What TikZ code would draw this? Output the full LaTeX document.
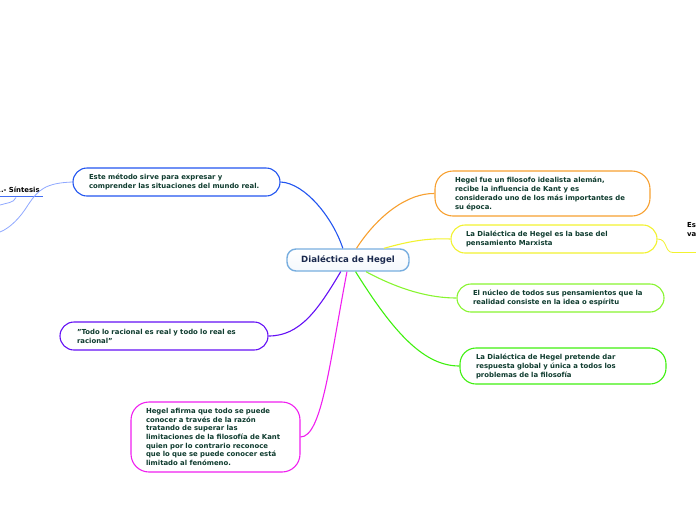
\documentclass[tikz,border=0pt]{standalone}
\usepackage{fontspec}
\setmainfont{DejaVu Sans}
\definecolor{txt}{HTML}{0E3B2E}
\definecolor{ctxt}{HTML}{1B2A4E}
\definecolor{cblue}{HTML}{2255F0}
\definecolor{corange}{HTML}{F7A030}
\definecolor{cyellow}{HTML}{F2F230}
\definecolor{clime}{HTML}{88F530}
\definecolor{cgreen}{HTML}{40F010}
\definecolor{cpurple}{HTML}{6410F5}
\definecolor{cmagenta}{HTML}{F020F0}
\definecolor{ccenter}{HTML}{78AEDF}
\definecolor{clight}{HTML}{8FA8FF}
\tikzset{
  x=1pt, y=-1pt,
  topic/.style={draw=#1, line width=1.1pt, rounded corners=14pt, fill=white,
    text=txt, align=left, inner xsep=0pt, inner ysep=0pt,
    font=\bfseries\fontsize{6.9}{9}\selectfont},
  link/.style={draw=#1, line width=1.1pt},
}
\begin{document}
\begin{tikzpicture}
\useasboundingbox (0,0) rectangle (696,520);
% central node
\node[draw=ccenter, line width=1.4pt, rounded corners=9pt, top color=white, bottom color=white!92!ccenter,
  minimum width=122pt, minimum height=22pt, text=ctxt, font=\bfseries\fontsize{8.6}{10}\selectfont, inner sep=0pt]
  (c) at (348,260) {Dialéctica de Hegel};
% topics
\node[topic=cblue, minimum width=207pt, minimum height=28pt, text width=175pt] (b) at (176.5,182)
  {Este método sirve para expresar y\\comprender las situaciones del mundo real.};
\node[topic=corange, minimum width=215pt, minimum height=45pt, text width=175pt, rounded corners=18pt] (o) at (542.5,193.5)
  {Hegel fue un filosofo idealista alemán,\\recibe la influencia de Kant y es\\considerado uno de los más importantes de\\su época.};
\node[topic=cyellow, minimum width=206pt, minimum height=28pt, text width=176pt] (y) at (554,239)
  {La Dialéctica de Hegel es la base del\\pensamiento Marxista};
\node[topic=clime, minimum width=207pt, minimum height=28pt, text width=175pt] (l) at (560.5,298)
  {El núcleo de todos sus pensamientos que la\\realidad consiste en la idea o espíritu};
\node[topic=cgreen, minimum width=206pt, minimum height=36pt, text width=174pt, rounded corners=16pt] (g) at (563,366)
  {La Dialéctica de Hegel pretende dar\\respuesta global y única a todos los\\problemas de la filosofía};
\node[topic=cpurple, minimum width=208pt, minimum height=28pt, text width=174pt] (p) at (164,336)
  {"Todo lo racional es real y todo lo real es\\racional"};
\node[topic=cmagenta, minimum width=169pt, minimum height=70pt, text width=139pt, rounded corners=18pt,
  font=\bfseries\fontsize{6.9}{8.6}\selectfont] (m) at (215.5,437)
  {Hegel afirma que todo se puede\\conocer a través de la razón\\tratando de superar las\\limitaciones de la filosofía de Kant\\quien por lo contrario reconoce\\que lo que se puede conocer está\\limitado al fenómeno.};
% connectors
\draw[link=cblue] (c.114) .. controls (333,218) and (305,183) .. (b.east);
\draw[link=corange] (c.54) .. controls (378,215) and (408,193) .. (o.west);
\draw[link=cyellow] (c.18) .. controls (410,241) and (428,238) .. (y.west);
\draw[link=clime] (c.-33) .. controls (400,290) and (430,298) .. (l.west);
\draw[link=cgreen] (c.-57) .. controls (395,335) and (425,366) .. (g.west);
\draw[link=cpurple] (c.-122) .. controls (318,310) and (300,336) .. (p.east);
\draw[link=cmagenta] (c.-95) .. controls (330,360) and (322,437) .. (m.east);
% partial node on the left
\node[anchor=base west, inner sep=0pt, text=black, font=\bfseries\fontsize{6.9}{9}\selectfont] (s) at (-4,192) {1.- Síntesis};
\coordinate (sl) at (0,196.5);
\coordinate (sr) at (43,196.5);
\draw[draw=cblue!85!white, line width=1.8pt] (sl) -- (sr);
\coordinate (s1) at (0,232);
\coordinate (s2) at (16,197.5);
\coordinate (s3) at (0,205);
\draw[draw=clight, line width=0.8pt] (b.west) .. controls (45,183) and (38,190) .. (28,205) .. controls (20,218) and (10,228) .. (s1);
\draw[draw=clight, line width=0.8pt] (s2) .. controls (14,203) and (6,203) .. (s3);
% partial node on the right
\node[anchor=base west, inner sep=0pt, text=black, align=left, font=\bfseries\fontsize{6.9}{9}\selectfont] (r) at (687,236) {Es\\va};
\coordinate (rl) at (673,252.5);
\coordinate (rr) at (696,252.5);
\draw[draw=cyellow, line width=1.6pt] (rl) -- (rr);
\draw[draw=cyellow, line width=0.8pt] (y.east) .. controls (668,239) and (664,252.5) .. (rl);
\end{tikzpicture}
\end{document}
